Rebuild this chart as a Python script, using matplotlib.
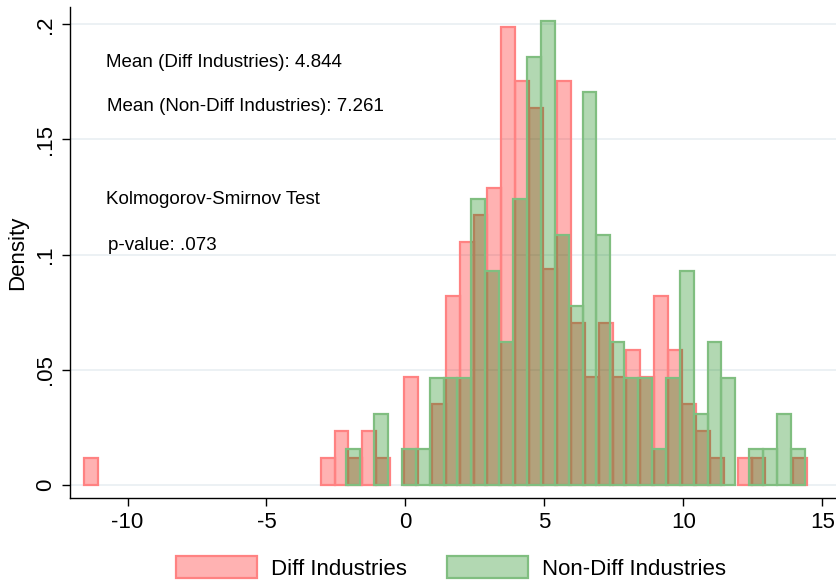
import numpy as np
import matplotlib
matplotlib.use("Agg")
import matplotlib.pyplot as plt
from matplotlib.patches import Patch

plt.rcParams['font.family'] = ['Liberation Sans', 'DejaVu Sans']

# ---- data (densities) ----
bin_width = 0.5
diff_start = -11.55
nondiff_start = -2.13

diff_density = [0.0117] + [0.0] * 16 + [
    0.0117, 0.0234, 0.0117, 0.0234, 0.0117, 0.0, 0.0468, 0.0, 0.0351, 0.0819,
    0.1053, 0.1170, 0.1287, 0.1988, 0.1754, 0.1637, 0.0936, 0.1754, 0.0702, 0.0468,
    0.0702, 0.0468, 0.0585, 0.0468, 0.0819, 0.0585, 0.0351, 0.0234, 0.0117, 0.0,
    0.0117, 0.0117, 0.0, 0.0, 0.0117]

nondiff_density = [
    0.0155, 0.0, 0.0310, 0.0, 0.0155, 0.0155, 0.0465, 0.0465, 0.0465, 0.1240,
    0.0930, 0.0620, 0.1240, 0.1860, 0.2016, 0.1085, 0.0775, 0.1705, 0.1085, 0.0620,
    0.0465, 0.0465, 0.0155, 0.0465, 0.0930, 0.0310, 0.0620, 0.0465, 0.0, 0.0155,
    0.0155, 0.0310, 0.0155]

series_labels = ["Diff Industries", "Non-Diff Industries"]
x_ticks = [-10, -5, 0, 5, 10, 15]
y_ticks = [0, 0.05, 0.10, 0.15, 0.20]
y_ticklabels = ["0", ".05", ".1", ".15", ".2"]
annotations = [
    (-10.77, 0.1835, "Mean (Diff Industries): 4.844"),
    (-10.74, 0.1645, "Mean (Non-Diff Industries): 7.261"),
    (-10.77, 0.1240, "Kolmogorov-Smirnov Test"),
    (-10.69, 0.1040, "p-value: .073"),
]

# ---- styling ----
red_face = (1.0, 0.0, 0.0, 0.30)
red_edge = "#ff8282"
green_face = (0.0, 0.50, 0.0, 0.30)
green_edge = "#80be80"
grid_col = "#eaf0f3"

fig = plt.figure(figsize=(8.36, 5.83), dpi=100)
ax = fig.add_axes([0.0837, 0.1453, 0.9163, 0.8427])

for y in y_ticks:
    ax.axhline(y, color=grid_col, lw=1.3, zorder=0)


def draw_hist(start, dens, face, edge):
    dens = np.asarray(dens)
    left = start + bin_width * np.arange(len(dens))
    m = dens > 0
    ax.bar(left[m], dens[m], width=bin_width, align='edge',
           facecolor=face, edgecolor=edge, linewidth=1.6, zorder=2)


draw_hist(diff_start, diff_density, red_face, red_edge)
draw_hist(nondiff_start, nondiff_density, green_face, green_edge)

ax.set_xlim(-12.07, 15.49)
ax.set_ylim(-0.0058, 0.2075)

ax.set_xticks(x_ticks)
ax.set_xticklabels([str(t) for t in x_ticks])
ax.set_yticks(y_ticks)
ax.set_yticklabels(y_ticklabels, rotation=90, va='center')

for s in ['top', 'right']:
    ax.spines[s].set_visible(False)
for s in ['left', 'bottom']:
    ax.spines[s].set_linewidth(1.0)
    ax.spines[s].set_color('black')

ax.tick_params(axis='both', direction='out', length=6, width=1.0,
               labelsize=16, colors='black')
ax.tick_params(axis='y', pad=4)
ax.tick_params(axis='x', pad=4)

ax.set_ylabel("Density", fontsize=16, labelpad=5)

for x, y, s in annotations:
    ax.text(x, y, s, fontsize=13.5, ha='left', va='center', color='black')

handles = [Patch(facecolor=red_face, edgecolor=red_edge, linewidth=1.6),
           Patch(facecolor=green_face, edgecolor=green_edge, linewidth=1.6)]
fig.legend(handles, series_labels, loc='center', bbox_to_anchor=(0.539, 0.0257),
           ncol=2, frameon=False, fontsize=16, handlelength=3.65,
           handleheight=1.1, handletextpad=0.63, columnspacing=1.8,
           borderaxespad=0, borderpad=0)

fig.savefig("out.png", dpi=100)
